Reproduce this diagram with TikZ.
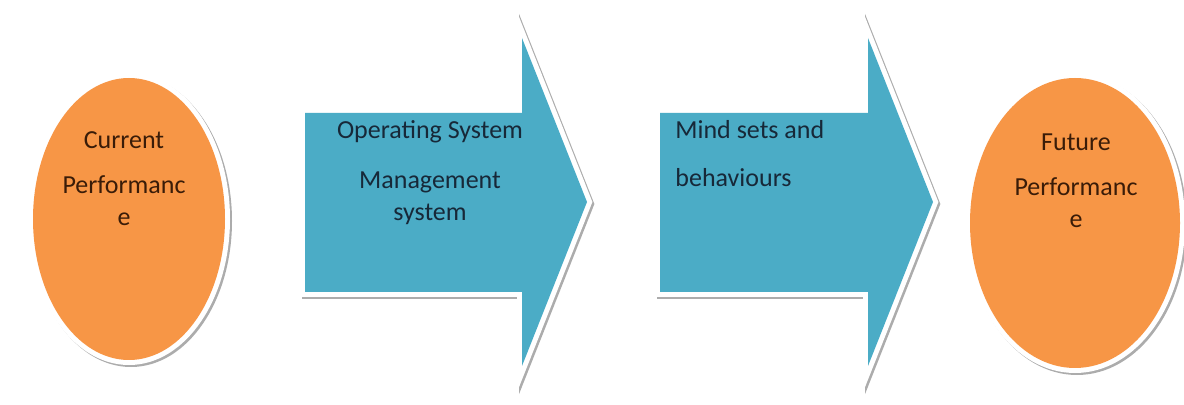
\documentclass[tikz,border=0pt]{standalone}
\usepackage{fontspec}
\setmainfont{Carlito}
\usetikzlibrary{shapes.geometric}

\definecolor{arrowblue}{HTML}{4BACC6}
\definecolor{ovalorange}{HTML}{F79646}
\definecolor{inkblue}{HTML}{172838}
\definecolor{inkbrown}{HTML}{3A1C08}

\begin{document}
\begin{tikzpicture}[x=0.5pt, y=-0.5pt,
    every node/.style={inner sep=0pt, font=\fontsize{13}{16}\selectfont},
    rimmed/.style={preaction={draw=gray!65, line width=5pt, transform canvas={xshift=1pt, yshift=-1pt}},
                   preaction={draw=white, line width=5pt}},
    oval/.style={ellipse, rimmed, fill=ovalorange},
    step arrow/.style={rimmed, fill=arrowblue},
    oval text/.style={anchor=north, align=center, text=inkbrown},
    arrow text/.style={anchor=north, align=center, text=inkblue}]
\useasboundingbox (0,0) rectangle (1184,405);
%================================================================
%	Ovals
\node[oval, minimum width=96pt, minimum height=141pt] (cur) at (129,219) {};
\node[oval, minimum width=105pt, minimum height=145pt] (fut) at (1075,223) {};
%================================================================
%	Arrows
\path[step arrow] (305,113) -- (522,113) -- (522,38) -- (587,202)
    -- (522,366) -- (522,292) -- (305,292) -- cycle;
\path[step arrow] (660,113) -- (868,113) -- (868,38) -- (933,202)
    -- (868,366) -- (868,292) -- (660,292) -- cycle;
%================================================================
%	Labels
\node[oval text] (curtxt) at (124,131) {Current\\[6.5pt] Performanc\\ e};
\node[oval text] (futtxt) at (1076,133) {Future\\[6.5pt] Performanc\\ e};
\node[arrow text] (ostxt) at (430,120) {Operating System\\[9pt] Management\\ system};
\node[arrow text, anchor=north west, align=left] (mstxt) at (675,120) {Mind sets and\\[8pt] behaviours};
%================================================================
\end{tikzpicture}
\end{document}
